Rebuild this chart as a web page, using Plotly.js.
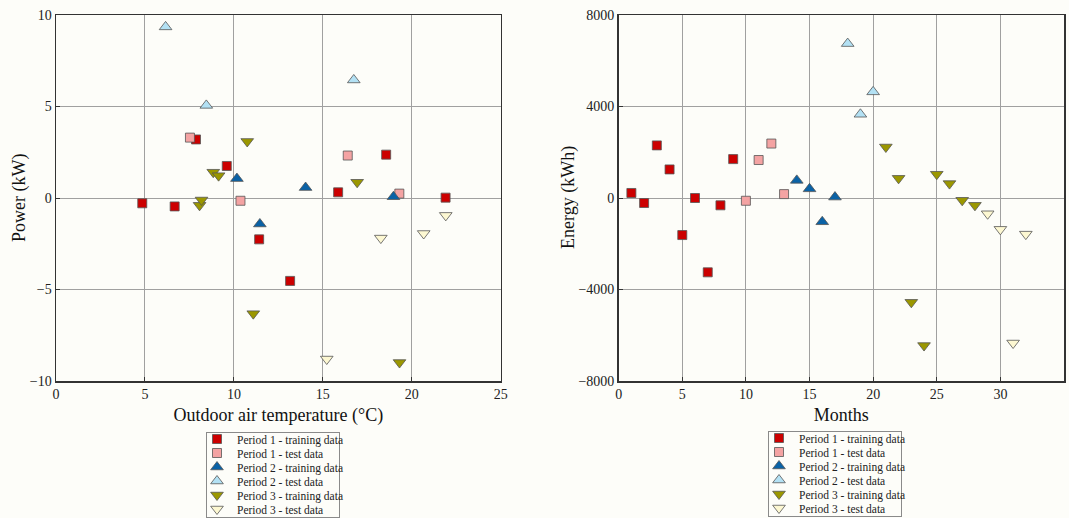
<!DOCTYPE html>
<html>
<head>
<meta charset="utf-8">
<script src="https://cdn.plot.ly/plotly-3.0.1.min.js"></script>
<style>
  html, body { margin: 0; padding: 0; background: #fdfdf9; }
  #chart { width: 1069px; height: 518px; }
</style>
</head>
<body>
<div id="chart"></div>
<script>
// ---- Data (left panel: power vs outdoor air temperature) ----
const p1TrainTemp  = [4.85, 6.67, 7.87, 9.6, 11.42, 13.16, 15.86, 18.56, 21.9];
const p1TrainPower = [-0.29, -0.46, 3.2, 1.75, -2.26, -4.53, 0.31, 2.37, 0.02];
const p1TestTemp   = [7.53, 10.37, 16.4, 19.3];
const p1TestPower  = [3.3, -0.15, 2.32, 0.24];
const p2TrainTemp  = [10.17, 11.46, 14.03, 18.97];
const p2TrainPower = [1.06, -1.42, 0.57, 0.07];
const p2TestTemp   = [6.16, 8.45, 16.74];
const p2TestPower  = [9.35, 5.06, 6.45];
const p3TrainTemp  = [8.07, 8.18, 8.84, 9.14, 10.75, 11.09, 16.93, 19.31];
const p3TrainPower = [-0.4, -0.11, 1.41, 1.22, 3.09, -6.32, 0.86, -8.99];
const p3TestTemp   = [15.22, 18.26, 20.67, 21.91];
const p3TestPower  = [-8.8, -2.19, -1.94, -0.95];

// ---- Data (right panel: energy vs months) ----
const p1TrainMonth  = [1, 2, 3, 4, 5, 6, 7, 8, 9];
const p1TrainEnergy = [220, -220, 2300, 1250, -1620, 0, -3250, -320, 1700];
const p1TestMonth   = [10, 11, 12, 13];
const p1TestEnergy  = [-120, 1660, 2380, 170];
const p2TrainMonth  = [14, 15, 16, 17];
const p2TrainEnergy = [770, 400, -1040, 40];
const p2TestMonth   = [18, 19, 20];
const p2TestEnergy  = [6750, 3660, 4640];
const p3TrainMonth  = [21, 22, 23, 24, 25, 26, 27, 28];
const p3TrainEnergy = [2230, 860, -4560, -6450, 1040, 630, -100, -320];
const p3TestMonth   = [29, 30, 31, 32];
const p3TestEnergy  = [-690, -1370, -6340, -1580];

const seriesNames = [
  'Period 1 - training data', 'Period 1 - test data',
  'Period 2 - training data', 'Period 2 - test data',
  'Period 3 - training data', 'Period 3 - test data'
];
const leftXTitle = 'Outdoor air temperature (°C)';
const leftYTitle = 'Power (kW)';
const rightXTitle = 'Months';
const rightYTitle = 'Energy (kWh)';

// ---- Styles ----
const styles = [
  {symbol: 'square', color: '#cc0000', size: 9},
  {symbol: 'square', color: '#f4a3a3', size: 9},
  {symbol: 'triangle-up', color: '#0a62a6', size: 11},
  {symbol: 'triangle-up', color: '#b3e1f4', size: 11},
  {symbol: 'triangle-down', color: '#9b9700', size: 11},
  {symbol: 'triangle-down', color: '#fdf8d2', size: 11}
];

const leftX = [p1TrainTemp, p1TestTemp, p2TrainTemp, p2TestTemp, p3TrainTemp, p3TestTemp];
const leftY = [p1TrainPower, p1TestPower, p2TrainPower, p2TestPower, p3TrainPower, p3TestPower];
const rightX = [p1TrainMonth, p1TestMonth, p2TrainMonth, p2TestMonth, p3TrainMonth, p3TestMonth];
const rightY = [p1TrainEnergy, p1TestEnergy, p2TrainEnergy, p2TestEnergy, p3TrainEnergy, p3TestEnergy];

const traces = [];
seriesNames.forEach((name, i) => {
  const marker = {
    symbol: styles[i].symbol, color: styles[i].color, size: styles[i].size,
    line: {color: '#555555', width: 0.8}
  };
  traces.push({type: 'scatter', mode: 'markers', name: name, x: leftX[i], y: leftY[i],
    xaxis: 'x', yaxis: 'y', marker: marker, legend: 'legend'});
  traces.push({type: 'scatter', mode: 'markers', name: name, x: rightX[i], y: rightY[i],
    xaxis: 'x2', yaxis: 'y2', marker: marker, legend: 'legend2'});
});

const serif = '"Liberation Serif", "Times New Roman", serif';
const axisCommon = {
  showline: true, mirror: true, linecolor: '#333333', linewidth: 1.5,
  showgrid: true, gridcolor: '#a0a0a0', gridwidth: 1,
  zeroline: false,
  ticks: 'inside', ticklen: 4, tickcolor: '#333333', tickwidth: 1,
  tickfont: {family: serif, size: 14, color: '#222222'}
};
const titleFont = {family: serif, size: 18, color: '#111111'};
const legendCommon = {
  xref: 'container', yref: 'container', xanchor: 'left', yanchor: 'top',
  bgcolor: '#fdfdf9', bordercolor: '#8a8a8a', borderwidth: 1,
  font: {family: serif, size: 11.5, color: '#222222'},
  tracegroupgap: 0, itemclick: false
};

const layout = {
  width: 1069, height: 518,
  paper_bgcolor: '#fdfdf9', plot_bgcolor: '#fdfdf9',
  margin: {l: 56, r: 5, t: 15, b: 137, autoexpand: false},
  showlegend: true,
  xaxis: Object.assign({}, axisCommon, {
    domain: [0, 0.4412], range: [0, 25], dtick: 5, anchor: 'y',
    title: {text: leftXTitle, font: titleFont, standoff: 7}
  }),
  yaxis: Object.assign({}, axisCommon, {
    range: [-10, 10], dtick: 5, anchor: 'x'
  }),
  xaxis2: Object.assign({}, axisCommon, {
    domain: [0.5582, 1], range: [0, 35], dtick: 5, anchor: 'y2',
    title: {text: rightXTitle, font: titleFont, standoff: 7}
  }),
  yaxis2: Object.assign({}, axisCommon, {
    range: [-8000, 8000], dtick: 4000, anchor: 'x2'
  }),
  annotations: [
    {text: leftYTitle, textangle: -90, font: titleFont, showarrow: false,
     xref: 'paper', yref: 'paper', x: (19 - 56) / 1008, y: 0.5, xanchor: 'center', yanchor: 'middle'},
    {text: rightYTitle, textangle: -90, font: titleFont, showarrow: false,
     xref: 'paper', yref: 'paper', x: (568 - 56) / 1008, y: 0.5, xanchor: 'center', yanchor: 'middle'}
  ],
  legend: Object.assign({}, legendCommon, {x: 206 / 1069, y: 1 - 432 / 518}),
  legend2: Object.assign({}, legendCommon, {x: 768 / 1069, y: 1 - 431 / 518})
};

Plotly.newPlot('chart', traces, layout, {staticPlot: true, displayModeBar: false}).then(function (gd) {
  // Compact the legend rows (reference uses ~14px row pitch)
  try {
    const legends = gd.querySelectorAll('.infolayer > g');
    legends.forEach(function (lg) {
      const items = lg.querySelectorAll('g.traces');
      if (!items.length) return;
      const pitch = 14, top = 7, shiftX = -10;
      items.forEach(function (it, i) {
        const tr = it.getAttribute('transform') || '';
        const m = /translate\(\s*([-\d.e]+)[ ,]+([-\d.e]+)/.exec(tr);
        const x = m ? parseFloat(m[1]) : 0;
        it.setAttribute('transform', 'translate(' + (x + shiftX) + ',' + (top + pitch * i) + ')');
      });
      const bg = lg.querySelector('rect.bg');
      if (bg) {
        const w = parseFloat(bg.getAttribute('width'));
        bg.setAttribute('height', pitch * items.length + 1);
        bg.setAttribute('width', w + 2 * shiftX);
      }
    });
  } catch (e) {}
});
</script>
</body>
</html>
